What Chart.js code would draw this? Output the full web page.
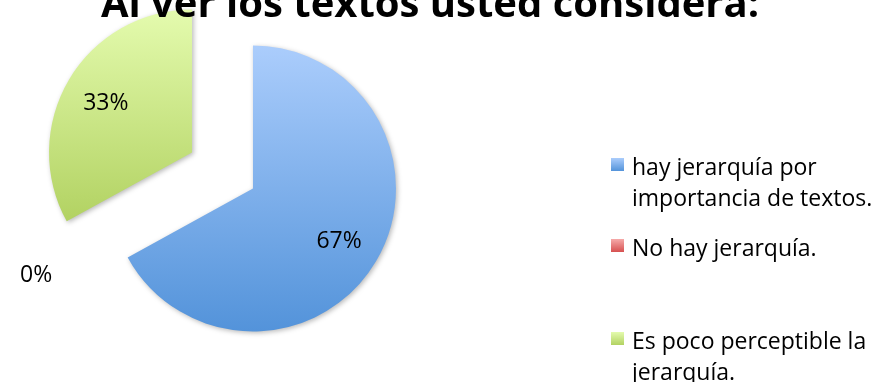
<!DOCTYPE html>
<html><head><meta charset="utf-8">
<script src="https://cdn.jsdelivr.net/npm/chart.js@4.4.1/dist/chart.umd.min.js"></script>
<style>
html,body{margin:0;padding:0;background:#fff;}
#wrap{position:relative;width:894px;height:382px;overflow:hidden;font-family:"Open Sans",sans-serif;}
#c{position:absolute;left:0;top:0;width:894px;height:382px;}
#title{position:absolute;left:0;width:860px;top:-18px;text-align:center;font-weight:700;font-size:40px;line-height:40px;color:#000;white-space:nowrap;}
.lg{position:absolute;left:611px;width:283px;font-size:23px;line-height:31px;color:#000;}
.lg .sq{position:absolute;left:0;top:7px;width:13px;height:13px;}
.lg .tx{position:absolute;left:21px;top:0;width:258px;}
</style></head>
<body><div id="wrap"><canvas id="c" width="894" height="382"></canvas><div id="title"></div></div>
<script>
// ---- data ----
const titleText = 'Al ver los textos usted considera:';
const categories = ['hay jerarquía por importancia de textos.', 'No hay jerarquía.', 'Es poco perceptible la jerarquía.'];
const values = [67, 0, 33];

// ---- style ----
const gradTop = ['#abcdfc', '#f6aaa9', '#e4fbae'];
const gradBottom = ['#5393da', '#d65050', '#b2d262'];
const legendTops = [151, 232, 325];
const EXPLODE = 35.4;

document.getElementById('title').textContent = titleText;
const wrap = document.getElementById('wrap');
categories.forEach((c, i) => {
  const d = document.createElement('div');
  d.className = 'lg';
  d.style.top = legendTops[i] + 'px';
  const sq = document.createElement('div');
  sq.className = 'sq';
  sq.style.background = 'linear-gradient(' + gradTop[i] + ',' + gradBottom[i] + ')';
  const tx = document.createElement('div');
  tx.className = 'tx';
  tx.textContent = c;
  d.appendChild(sq); d.appendChild(tx);
  wrap.appendChild(d);
});

const explodePlugin = {
  id: 'explode',
  beforeDatasetDraw(chart, args) {
    const ctx = chart.ctx;
    args.meta.data.forEach((arc, i) => {
      if (!arc.circumference) return;
      const mid = (arc.startAngle + arc.endAngle) / 2;
      const dx = Math.cos(mid) * EXPLODE, dy = Math.sin(mid) * EXPLODE;
      let minY = arc.y, maxY = arc.y;
      for (let k = 0; k <= 90; k++) {
        const a = arc.startAngle + (arc.endAngle - arc.startAngle) * k / 90;
        const y = arc.y + arc.outerRadius * Math.sin(a);
        minY = Math.min(minY, y); maxY = Math.max(maxY, y);
      }
      ctx.save();
      ctx.translate(dx, dy);
      ctx.shadowColor = 'rgba(0,0,0,0.28)';
      ctx.shadowBlur = 5;
      ctx.shadowOffsetX = 1.5;
      ctx.shadowOffsetY = 1.5;
      const g = ctx.createLinearGradient(0, minY, 0, maxY);
      g.addColorStop(0, gradTop[i]);
      g.addColorStop(1, gradBottom[i]);
      const el = Object.create(arc);
      el.options = Object.assign({}, arc.options, {backgroundColor: g, borderWidth: 0, offset: 0, spacing: 0});
      el.draw(ctx);
      ctx.restore();
    });
    return false;
  },
  afterDatasetsDraw(chart) {
    const meta = chart.getDatasetMeta(0);
    const ctx = chart.ctx;
    const total = values.reduce((a, b) => a + b, 0);
    ctx.save();
    ctx.font = '23px "Open Sans"';
    ctx.fillStyle = '#000';
    ctx.textAlign = 'center';
    ctx.textBaseline = 'middle';
    meta.data.forEach((arc, i) => {
      const mid = (arc.startAngle + arc.endAngle) / 2;
      const ax = arc.x + Math.cos(mid) * EXPLODE, ay = arc.y + Math.sin(mid) * EXPLODE;
      const f = values[i] === 0 ? 1.24 : 0.7;
      ctx.fillText(Math.round(values[i] / total * 100) + '%',
        ax + Math.cos(mid) * arc.outerRadius * f, ay + Math.sin(mid) * arc.outerRadius * f + 2);
    });
    ctx.restore();
  }
};

new Chart(document.getElementById('c'), {
  type: 'pie',
  data: {labels: categories, datasets: [{data: values, backgroundColor: gradBottom, borderWidth: 0}]},
  options: {
    responsive: false,
    animation: false,
    radius: 143,
    events: [],
    layout: {padding: {left: 0, right: 449, top: 0, bottom: 41}},
    plugins: {legend: {display: false}, title: {display: false}, tooltip: {enabled: false}}
  },
  plugins: [explodePlugin]
});
</script>
</body></html>
